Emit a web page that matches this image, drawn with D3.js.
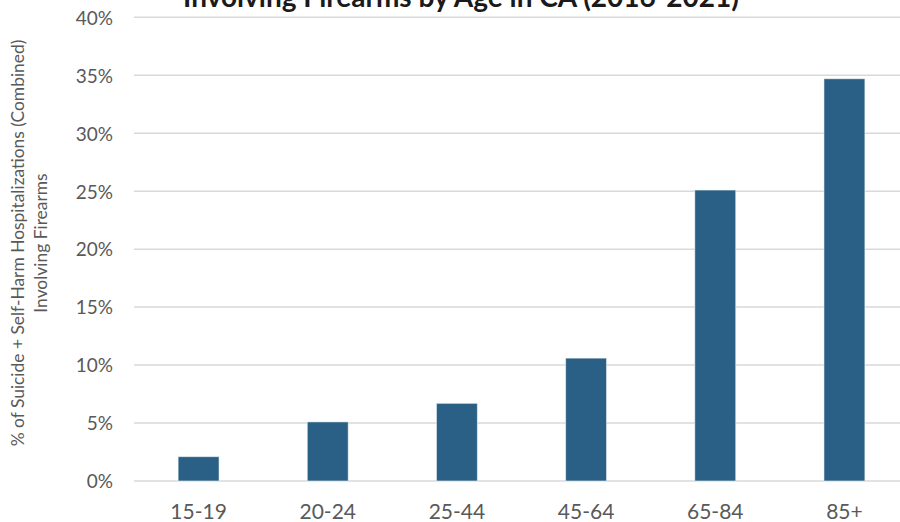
<!DOCTYPE html>
<html>
<head>
<meta charset="utf-8">
<script src="https://cdn.jsdelivr.net/npm/d3@7"></script>
<style>
  html, body { margin: 0; padding: 0; background: #fff; }
  svg { display: block; }
</style>
</head>
<body>
<svg id="chart" width="900" height="522"></svg>
<script>
// Share of suicide + self-harm hospitalizations involving firearms, by age group
const ageGroups = ["15-19", "20-24", "25-44", "45-64", "65-84", "85+"];
const firearmShare = [2.1, 5.1, 6.7, 10.6, 25.1, 34.7];
const yTicks = [0, 5, 10, 15, 20, 25, 30, 35, 40];
const titleText = "Involving Firearms by Age in CA (2016-2021)";
const yTitleLines = ["% of Suicide + Self-Harm Hospitalizations (Combined)", "Involving Firearms"];

const svg = d3.select("#chart");
const margin = { left: 134, right: -9, top: 17.3, bottom: 41 };
const W = 900, H = 522;

const x = d3.scaleBand()
  .domain(ageGroups)
  .range([margin.left, W - margin.right])
  .paddingInner(0.683)
  .paddingOuter(0.683 / 2);

const y = d3.scaleLinear()
  .domain([0, 40])
  .range([H - margin.bottom, margin.top]);

const font = "Lato, 'Open Sans', sans-serif";

// Gridlines
svg.append("g")
  .selectAll("line")
  .data(yTicks)
  .join("line")
  .attr("x1", margin.left)
  .attr("x2", W - margin.right)
  .attr("y1", d => y(d))
  .attr("y2", d => y(d))
  .attr("stroke", "#d9d9d9")
  .attr("stroke-width", 1.5);

// Y axis tick labels
const yAxis = d3.axisLeft(y).tickValues(yTicks).tickFormat(d => d + "%").tickSize(0).tickPadding(21);
const gy = svg.append("g").attr("transform", `translate(${margin.left},0)`).call(yAxis);
gy.select(".domain").remove();
gy.selectAll("text")
  .attr("font-family", font)
  .attr("font-size", 19)
  .attr("fill", "#595959")
  .attr("dy", "0.36em");

// Bars
svg.append("g")
  .selectAll("rect")
  .data(ageGroups.map((g, i) => ({ g, v: firearmShare[i] })))
  .join("rect")
  .attr("x", d => x(d.g))
  .attr("width", x.bandwidth())
  .attr("y", d => y(d.v))
  .attr("height", d => y(0) - y(d.v))
  .attr("fill", "#2a6085")
  .attr("stroke", "rgba(255,255,255,0.55)")
  .attr("stroke-width", 1);

// X axis category labels
const xAxis = d3.axisBottom(x).tickSize(0).tickPadding(0);
const gx = svg.append("g").attr("transform", `translate(0,${H - margin.bottom})`).call(xAxis);
gx.select(".domain").remove();
gx.selectAll("text")
  .attr("font-family", font)
  .attr("font-size", 21)
  .attr("fill", "#595959")
  .attr("dy", null)
  .attr("y", 38);

// Chart title (second line of the heading)
svg.append("text")
  .attr("x", 461)
  .attr("y", 7)
  .attr("text-anchor", "middle")
  .attr("font-family", font)
  .attr("font-weight", "bold")
  .attr("font-size", 28)
  .attr("fill", "#1a1a1a")
  .text(titleText);

// Y axis title, two rotated lines
const yt = svg.append("text")
  .attr("transform", "translate(0,243) rotate(-90)")
  .attr("text-anchor", "middle")
  .attr("font-family", font)
  .attr("font-size", 17.4)
  .attr("fill", "#595959");
yTitleLines.forEach((line, i) => {
  yt.append("tspan")
    .attr("x", 0)
    .attr("y", 24 + i * 23)
    .text(line);
});
</script>
</body>
</html>
